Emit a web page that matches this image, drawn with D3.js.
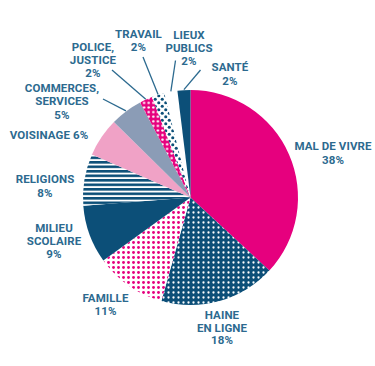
<!DOCTYPE html>
<html>
<head>
<meta charset="utf-8">
<script src="https://cdn.jsdelivr.net/npm/d3@7"></script>
<style>
  html, body { margin: 0; padding: 0; background: #fff; }
  svg { display: block; }
  text { font-family: Roboto, "Noto Sans", sans-serif; font-weight: 700; }
</style>
</head>
<body>
<svg id="chart" width="375" height="366"></svg>
<script>
// ---- data ----
const categories = ["MAL DE VIVRE", "HAINE EN LIGNE", "FAMILLE", "MILIEU SCOLAIRE", "RELIGIONS",
  "VOISINAGE", "COMMERCES, SERVICES", "POLICE, JUSTICE", "TRAVAIL", "LIEUX PUBLICS", "SANTÉ"];
const values = [38, 18, 11, 9, 8, 6, 5, 2, 2, 2, 2];
const labelLines = [
  ["MAL DE VIVRE", "38%"],
  ["HAINE", "EN LIGNE", "18%"],
  ["FAMILLE", "11%"],
  ["MILIEU", "SCOLAIRE", "9%"],
  ["RELIGIONS", "8%"],
  ["VOISINAGE 6%"],
  ["COMMERCES,", "SERVICES", "5%"],
  ["POLICE,", "JUSTICE", "2%"],
  ["TRAVAIL", "2%"],
  ["LIEUX", "PUBLICS", "2%"],
  ["SANTÉ", "2%"]
];

// ---- layout / style ----
const W = 375, H = 366;
const cx = 190.5, cy = 197.5, R = 107.5;
const NAVY = "#0c4f78", PINK = "#e6007e", LPINK = "#f0a2c6", GREY = "#8b9cb6", TEXT = "#2c6a8f";
const fills = ["solid-pink", "pat-haine", "pat-famille", "solid-navy", "pat-stripes",
  "solid-lpink", "solid-grey", "pat-police", "pat-travail", "solid-white", "solid-navy"];
// label placement: x (center), baseline of each line
const labelLayout = [
  {x: 333, ys: [149.5, 163.5]},
  {x: 222, ys: [318.5, 331.5, 344]},
  {x: 105.5, ys: [301.5, 314.5]},
  {x: 54, ys: [231.5, 244.5, 257.5]},
  {x: 45, ys: [183, 197]},
  {x: 49, ys: [138.5]},
  {x: 62, ys: [91.5, 104.5, 118.5]},
  {x: 93, ys: [50.5, 63.5, 77]},
  {x: 138.5, ys: [37.5, 51]},
  {x: 189, ys: [39, 51.5, 65]},
  {x: 230, ys: [70.5, 84.5]}
];
// leader line start points (label side); null = no leader
const leaderStart = [null, null, null, null, null, null,
  [103, 99], [112, 70], [143, 57], [175.5, 60.5], [200.5, 70]];

const svg = d3.select("#chart");
const defs = svg.append("defs");

function dotPattern(id, size, bg, fg, r, staggered) {
  const p = defs.append("pattern").attr("id", id).attr("patternUnits", "userSpaceOnUse")
    .attr("width", size).attr("height", size)
    .attr("x", cx).attr("y", cy);
  p.append("rect").attr("width", size).attr("height", size).attr("fill", bg);
  if (staggered) {
    p.append("circle").attr("cx", size / 4).attr("cy", size / 4).attr("r", r).attr("fill", fg);
    p.append("circle").attr("cx", 3 * size / 4).attr("cy", 3 * size / 4).attr("r", r).attr("fill", fg);
  } else {
    p.append("circle").attr("cx", size / 2).attr("cy", size / 2).attr("r", r).attr("fill", fg);
  }
}
dotPattern("pat-haine", 5, NAVY, "#fff", 1.15, false);
dotPattern("pat-famille", 5, "#fff", PINK, 1.45, false);
dotPattern("pat-police", 4.6, PINK, "#fff", 1.25, false);
dotPattern("pat-travail", 7, "#fff", NAVY, 1.55, true);
const sp = defs.append("pattern").attr("id", "pat-stripes").attr("patternUnits", "userSpaceOnUse")
  .attr("width", 10).attr("height", 4.5).attr("y", cy);
sp.append("rect").attr("width", 10).attr("height", 4.5).attr("fill", "#fff");
sp.append("rect").attr("width", 10).attr("height", 2.6).attr("fill", NAVY);

const solid = {"solid-pink": PINK, "solid-navy": NAVY, "solid-lpink": LPINK, "solid-grey": GREY, "solid-white": "#fff"};
const fillOf = i => solid[fills[i]] || `url(#${fills[i]})`;

const pie = d3.pie().sort(null).value(d => d)(values);
const arc = d3.arc().innerRadius(0).outerRadius(R);

const g = svg.append("g").attr("transform", `translate(${cx},${cy})`);
g.selectAll("path.slice").data(pie).join("path")
  .attr("class", "slice")
  .attr("d", arc)
  .attr("fill", (d, i) => fillOf(i));

// leaders
pie.forEach((d, i) => {
  if (!leaderStart[i]) return;
  const a = (d.startAngle + d.endAngle) / 2;
  const ex = cx + Math.sin(a) * (R + 0.5), ey = cy - Math.cos(a) * (R + 0.5);
  svg.append("line")
    .attr("x1", leaderStart[i][0]).attr("y1", leaderStart[i][1])
    .attr("x2", ex).attr("y2", ey)
    .attr("stroke", TEXT).attr("stroke-width", 1.3);
});

// labels
labelLines.forEach((lines, i) => {
  const L = labelLayout[i];
  const t = svg.append("text").attr("text-anchor", "middle").attr("fill", TEXT)
    .attr("font-size", 11.5).attr("letter-spacing", 0.1);
  lines.forEach((s, k) => {
    t.append("tspan").attr("x", L.x).attr("y", L.ys[k]).text(s);
  });
});
</script>
</body>
</html>
